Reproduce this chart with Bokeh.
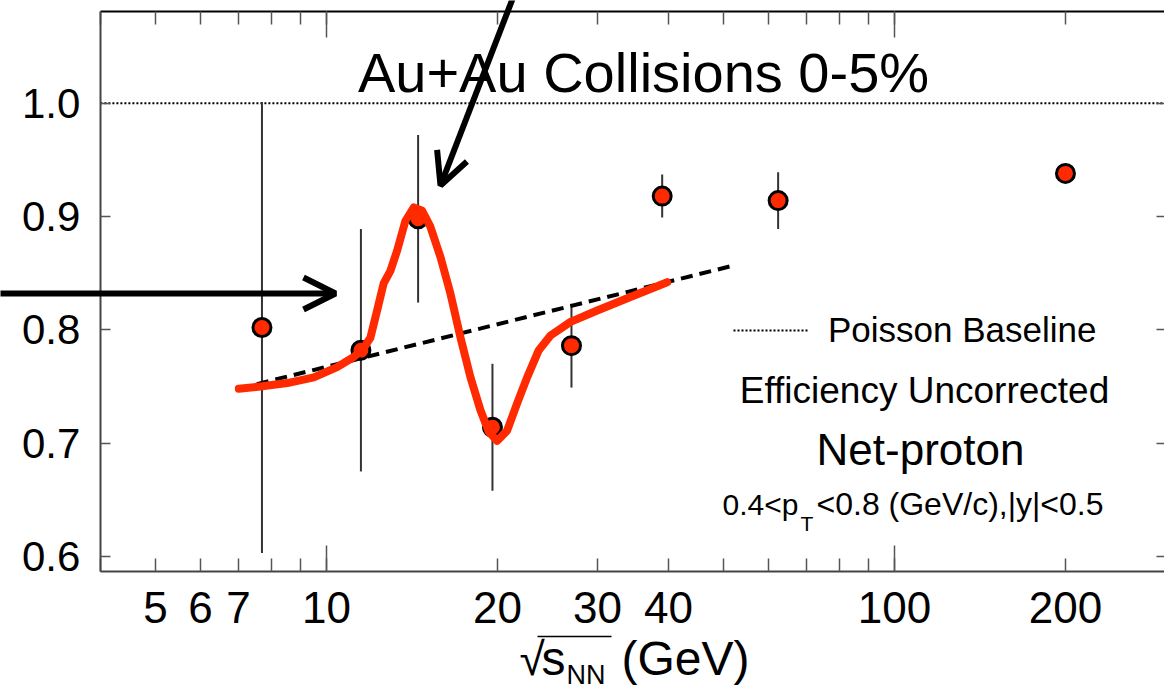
from bokeh.plotting import figure
from bokeh.models import (FixedTicker, LogAxis, LinearAxis, Label, Arrow, OpenHead,
                          Legend, LegendItem)
from bokeh.embed import file_html
from bokeh.resources import INLINE

# ---------------- data ----------------
energies = [7.7, 11.5, 14.5, 19.6, 27.0, 39.0, 62.4, 200.0]
ratio_values = [0.802, 0.782, 0.898, 0.714, 0.786, 0.918, 0.914, 0.938]
ratio_errors = [0.199, 0.107, 0.074, 0.056, 0.037, 0.019, 0.025, 0.005]

model_x = [7.01, 7.65, 8.53, 9.50, 10.44, 11.17, 11.56, 11.95, 12.28, 12.61, 12.96,
           13.32, 13.77, 14.25, 14.74, 15.24, 15.88, 16.53, 17.22, 17.93, 18.67,
           19.31, 19.97, 20.80, 21.66, 22.56, 23.65, 24.80, 26.90, 29.97, 34.29, 39.80]
model_y = [0.748, 0.750, 0.753, 0.758, 0.767, 0.776, 0.782, 0.793, 0.817, 0.841, 0.852,
           0.870, 0.896, 0.908, 0.905, 0.891, 0.864, 0.832, 0.793, 0.758, 0.729,
           0.710, 0.702, 0.711, 0.735, 0.758, 0.782, 0.795, 0.807, 0.817, 0.829, 0.842]

trend_x = [7.0, 51.4]
trend_y = [0.748, 0.856]

baseline_value = 1.0

x_ticks = [5, 6, 7, 10, 20, 30, 40, 100, 200]
x_tick_labels = ["5", "6", "7", "10", "20", "30", "40", "100", "200"]
x_minor_ticks = [4, 8, 9, 50, 60, 70, 80, 90, 300]
x_decade_ticks = [10, 100]
y_ticks = [0.6, 0.7, 0.8, 0.9, 1.0]
y_tick_labels = ["0.6", "0.7", "0.8", "0.9", "1.0"]

# visible data box (axes) and full canvas ranges
X_BOX = (4.0, 303.0)
Y_BOX = (0.587, 1.081)
X_RANGE = (2.668, 298.8)
Y_RANGE = (0.4808, 1.0906)

FONT = "Liberation Sans"
RED = "#ff2a00"

# ---------------- figure ----------------
W, H = 1164, 691

p = figure(width=W, height=H, x_axis_type="log", x_range=X_RANGE, y_range=Y_RANGE,
           output_backend="svg", toolbar_location=None,
           min_border_left=0, min_border_right=0, min_border_top=0,
           min_border_bottom=0)
p.xgrid.visible = False
p.ygrid.visible = False
p.outline_line_color = None
p.background_fill_color = "white"
p.border_fill_color = "white"


def sx(px):
    return px


def sy(py):
    return H - py


def style_axis(ax, tick_in, minor_in):
    ax.axis_line_color = "#444444"
    ax.axis_line_width = 2
    ax.major_tick_in = tick_in
    ax.major_tick_out = 0
    ax.minor_tick_in = minor_in
    ax.minor_tick_out = 0
    ax.major_tick_line_color = "#555555"
    ax.minor_tick_line_color = "#555555"
    ax.major_tick_line_width = 1.5
    ax.minor_tick_line_width = 1.5
    ax.major_label_text_font = FONT
    ax.major_label_text_color = "black"


def blank_labels(ax, ticks):
    ax.major_label_overrides = {t: "" for t in ticks}
    ax.major_label_text_font_size = "1px"
    ax.major_label_standoff = 0


xa = p.xaxis[0]
xa.ticker = FixedTicker(ticks=x_ticks, minor_ticks=x_minor_ticks)
style_axis(xa, 13, 13)
xa.fixed_location = Y_BOX[0]
xa.bounds = X_BOX
xa.major_label_overrides = {t: l for t, l in zip(x_ticks, x_tick_labels)}
xa.major_label_text_font_size = "44px"
xa.major_label_standoff = 21

ya = p.yaxis[0]
ya.ticker = FixedTicker(ticks=y_ticks, minor_ticks=[])
style_axis(ya, 10, 0)
ya.fixed_location = X_BOX[0]
ya.bounds = Y_BOX
ya.major_label_overrides = {t: l for t, l in zip(y_ticks, y_tick_labels)}
ya.major_label_text_font_size = "42px"
ya.major_label_standoff = 20

top_ax = LogAxis(ticker=FixedTicker(ticks=x_ticks, minor_ticks=x_minor_ticks))
style_axis(top_ax, 13, 13)
top_ax.fixed_location = Y_BOX[1]
top_ax.bounds = X_BOX
top_ax.axis_line_color = "black"
blank_labels(top_ax, x_ticks)
p.add_layout(top_ax, "above")

right_ax = LinearAxis(ticker=FixedTicker(ticks=y_ticks, minor_ticks=[]))
style_axis(right_ax, 8, 0)
right_ax.fixed_location = X_RANGE[1] - 0.5
right_ax.bounds = Y_BOX
right_ax.axis_line_color = None
blank_labels(right_ax, y_ticks)
p.add_layout(right_ax, "right")

# longer ticks at the decades (bottom and top)
for side, loc in (("below", Y_BOX[0]), ("above", Y_BOX[1])):
    dec = LogAxis(ticker=FixedTicker(ticks=x_decade_ticks, minor_ticks=[]))
    style_axis(dec, 26, 0)
    dec.fixed_location = loc
    dec.bounds = X_BOX
    dec.axis_line_color = None
    blank_labels(dec, x_decade_ticks)
    p.add_layout(dec, side)

# ---------------- glyphs ----------------
base_r = p.line(list(X_BOX), [baseline_value, baseline_value], line_color="black",
                line_width=2, line_dash="2 2")

lo = [v - e for v, e in zip(ratio_values, ratio_errors)]
hi = [v + e for v, e in zip(ratio_values, ratio_errors)]
p.segment(x0=energies, y0=lo, x1=energies, y1=hi, line_color="#333333", line_width=2)

p.scatter(energies, ratio_values, size=18, fill_color=RED, line_color="black",
          line_width=3)

p.line(trend_x, trend_y, line_color="black", line_width=4, line_dash="12 7")
p.line(model_x, model_y, line_color=RED, line_width=8, line_join="round",
       line_cap="round")

# legend for the baseline
legend = Legend(items=[LegendItem(label="Poisson Baseline", renderers=[base_r])],
                location=(sx(733), sy(350)), glyph_width=75, glyph_height=30,
                label_standoff=20, label_text_font=FONT, label_text_font_size="35px",
                label_text_color="black",
                border_line_color=None, background_fill_alpha=0, padding=0,
                margin=0, spacing=0)
p.add_layout(legend)


def add_label(text, px, py, size, align="left"):
    # py is the wanted baseline; the renderer draws ~0.36 em lower
    p.add_layout(Label(x=sx(px), y=sy(py - 0.36 * size), x_units="screen",
                       y_units="screen", text=text, text_font=FONT,
                       text_font_size=f"{size}px", text_align=align,
                       text_baseline="alphabetic", text_color="black"))


add_label("Au+Au Collisions 0-5%", 643, 92, 56, "center")
add_label("Efficiency Uncorrected", 924, 403, 37, "center")
add_label("Net-proton", 920, 465, 44, "center")
add_label("0.4<p", 722, 515, 30)
add_label("T", 800, 531, 21)
add_label("<0.8 (GeV/c),|y|<0.5", 816, 515, 32)

# x-axis title
add_label("\u221a", 519, 675, 46)
add_label("s", 541, 675, 48)
add_label("NN", 566, 684, 27)
add_label("(GeV)", 621, 675, 48)
p.add_layout(Arrow(x_start=sx(537), y_start=sy(636), x_end=sx(611), y_end=sy(636),
                   start_units="screen", end_units="screen", start=None, end=None,
                   line_color="black", line_width=1.5))

# arrows
p.add_layout(Arrow(x_start=sx(-5), y_start=sy(293), x_end=sx(335), y_end=sy(293),
                   start_units="screen", end_units="screen",
                   end=OpenHead(size=32, line_width=6, line_color="black"),
                   line_color="black", line_width=6))
p.add_layout(Arrow(x_start=sx(523), y_start=sy(-30), x_end=sx(440), y_end=sy(185),
                   start_units="screen", end_units="screen",
                   end=OpenHead(size=32, line_width=6, line_color="black"),
                   line_color="black", line_width=6))

open("out.html", "w").write(file_html(p, INLINE))
